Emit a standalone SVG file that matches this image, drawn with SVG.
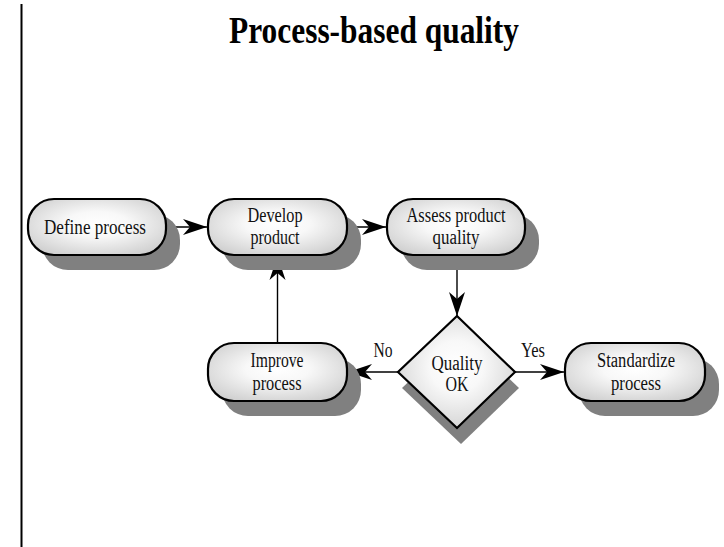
<svg xmlns="http://www.w3.org/2000/svg" width="724" height="547" viewBox="0 0 724 547">
<defs>
<radialGradient id="g" cx="50%" cy="45%" r="65%">
<stop offset="0" stop-color="#ffffff"/>
<stop offset="0.35" stop-color="#f8f8f8"/>
<stop offset="1" stop-color="#cccccc"/>
</radialGradient>
<marker id="ah" markerUnits="userSpaceOnUse" markerWidth="30" markerHeight="20" viewBox="-26 -10 30 20" refX="0" refY="0" orient="auto">
<path d="M0,0 L-24,-8 L-17,0 L-24,8 Z" fill="#000"/>
</marker>
</defs>
<style>
.shadow{fill:#808080;stroke:none}
.box{fill:url(#g);stroke:#000;stroke-width:2.2}
.lbl{font-family:"Liberation Serif","Times New Roman",serif;font-size:20.5px;fill:#111;text-anchor:middle}
.title{font-family:"Liberation Serif","Times New Roman",serif;font-size:38px;font-weight:bold;fill:#000;text-anchor:middle}
.conn{fill:none;stroke:#000;stroke-width:1.4;marker-end:url(#ah)}
</style>
<rect width="724" height="547" fill="#ffffff"/>
<line x1="21.5" y1="4" x2="21.5" y2="547" stroke="#000" stroke-width="2"/>
<text class="title" x="374" y="43" textLength="290" lengthAdjust="spacingAndGlyphs">Process-based quality</text>

<g id="connectors">
<path class="conn" d="M166,227 H207"/>
<path class="conn" d="M347,227 H386"/>
<path class="conn" d="M457,255 V316"/>
<path class="conn" d="M398,372 H348"/>
<path class="conn" d="M515,372 H564"/>
<path class="conn" d="M277.5,343 V256"/>
<text class="lbl" x="383" y="357" textLength="19" lengthAdjust="spacingAndGlyphs">No</text>
<text class="lbl" x="533" y="357" textLength="24" lengthAdjust="spacingAndGlyphs">Yes</text>
</g>

<g id="define">
<rect class="shadow" x="42" y="214" width="138" height="56" rx="26"/>
<rect class="box" x="28" y="199" width="138" height="56" rx="26"/>
<text class="lbl" x="95" y="234" textLength="102" lengthAdjust="spacingAndGlyphs">Define process</text>
</g>

<g id="develop">
<rect class="shadow" x="222" y="214" width="139" height="56" rx="26"/>
<rect class="box" x="208" y="199" width="139" height="56" rx="26"/>
<text class="lbl" x="275" y="222" textLength="55" lengthAdjust="spacingAndGlyphs">Develop</text>
<text class="lbl" x="275" y="244" textLength="49" lengthAdjust="spacingAndGlyphs">product</text>
</g>

<g id="assess">
<rect class="shadow" x="401" y="214" width="138" height="56" rx="26"/>
<rect class="box" x="387" y="199" width="138" height="56" rx="26"/>
<text class="lbl" x="456" y="222" textLength="99" lengthAdjust="spacingAndGlyphs">Assess product</text>
<text class="lbl" x="456" y="244" textLength="47" lengthAdjust="spacingAndGlyphs">quality</text>
</g>

<g id="quality">
<polygon class="shadow" points="461,332 519,388 461,444 402,388"/>
<polygon class="box" points="457,316 515,372 457,428 398,372"/>
<text class="lbl" x="457" y="370" textLength="51" lengthAdjust="spacingAndGlyphs">Quality</text>
<text class="lbl" x="457" y="391" textLength="23" lengthAdjust="spacingAndGlyphs">OK</text>
</g>

<g id="improve">
<rect class="shadow" x="222" y="358" width="139" height="58" rx="26"/>
<rect class="box" x="208" y="343" width="139" height="58" rx="26"/>
<text class="lbl" x="277" y="367" textLength="53" lengthAdjust="spacingAndGlyphs">Improve</text>
<text class="lbl" x="277" y="390" textLength="49" lengthAdjust="spacingAndGlyphs">process</text>
</g>

<g id="standardize">
<rect class="shadow" x="579" y="358" width="140" height="58" rx="26"/>
<rect class="box" x="565" y="343" width="140" height="58" rx="26"/>
<text class="lbl" x="636" y="367" textLength="78" lengthAdjust="spacingAndGlyphs">Standardize</text>
<text class="lbl" x="636" y="390" textLength="50" lengthAdjust="spacingAndGlyphs">process</text>
</g>
</svg>
